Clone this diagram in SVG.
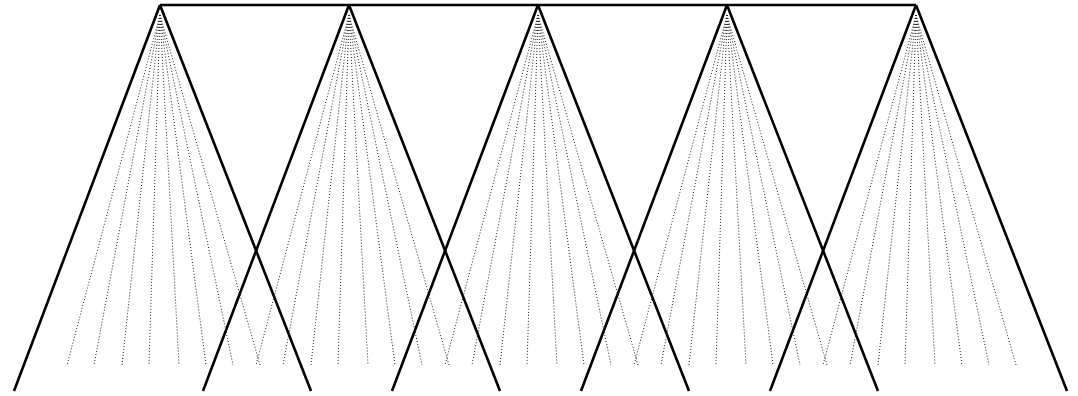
<svg xmlns="http://www.w3.org/2000/svg" width="1078" height="396" viewBox="0 0 1078 396">
<style>
.thick{stroke:#000;stroke-width:2.6;fill:none;stroke-linecap:butt}
.dot{stroke:#222;stroke-width:1;stroke-dasharray:1 2;fill:none}
</style>
<rect width="1078" height="396" fill="#fff"/>
<g id="connectors">
<line class="thick" x1="160" y1="5" x2="916" y2="5"/>
</g>
<g id="tree1" transform="translate(160,0)">
<line class="thick" x1="0" y1="5" x2="-146" y2="391"/>
<line class="thick" x1="0" y1="5" x2="151" y2="391"/>
<g class="dot"><line x1="0" y1="15" x2="-93" y2="365"/><line x1="0" y1="15" x2="-66" y2="365"/><line x1="0" y1="15" x2="-38" y2="365"/><line x1="0" y1="15" x2="-11" y2="365"/><line x1="0" y1="15" x2="19" y2="365"/><line x1="0" y1="15" x2="46" y2="365"/><line x1="0" y1="15" x2="73" y2="365"/><line x1="0" y1="15" x2="100" y2="365"/></g>
</g>
<g id="tree2" transform="translate(349,0)">
<line class="thick" x1="0" y1="5" x2="-146" y2="391"/>
<line class="thick" x1="0" y1="5" x2="151" y2="391"/>
<g class="dot"><line x1="0" y1="15" x2="-93" y2="365"/><line x1="0" y1="15" x2="-66" y2="365"/><line x1="0" y1="15" x2="-38" y2="365"/><line x1="0" y1="15" x2="-11" y2="365"/><line x1="0" y1="15" x2="19" y2="365"/><line x1="0" y1="15" x2="46" y2="365"/><line x1="0" y1="15" x2="73" y2="365"/><line x1="0" y1="15" x2="100" y2="365"/></g>
</g>
<g id="tree3" transform="translate(538,0)">
<line class="thick" x1="0" y1="5" x2="-146" y2="391"/>
<line class="thick" x1="0" y1="5" x2="151" y2="391"/>
<g class="dot"><line x1="0" y1="15" x2="-93" y2="365"/><line x1="0" y1="15" x2="-66" y2="365"/><line x1="0" y1="15" x2="-38" y2="365"/><line x1="0" y1="15" x2="-11" y2="365"/><line x1="0" y1="15" x2="19" y2="365"/><line x1="0" y1="15" x2="46" y2="365"/><line x1="0" y1="15" x2="73" y2="365"/><line x1="0" y1="15" x2="100" y2="365"/></g>
</g>
<g id="tree4" transform="translate(727,0)">
<line class="thick" x1="0" y1="5" x2="-146" y2="391"/>
<line class="thick" x1="0" y1="5" x2="151" y2="391"/>
<g class="dot"><line x1="0" y1="15" x2="-93" y2="365"/><line x1="0" y1="15" x2="-66" y2="365"/><line x1="0" y1="15" x2="-38" y2="365"/><line x1="0" y1="15" x2="-11" y2="365"/><line x1="0" y1="15" x2="19" y2="365"/><line x1="0" y1="15" x2="46" y2="365"/><line x1="0" y1="15" x2="73" y2="365"/><line x1="0" y1="15" x2="100" y2="365"/></g>
</g>
<g id="tree5" transform="translate(916,0)">
<line class="thick" x1="0" y1="5" x2="-146" y2="391"/>
<line class="thick" x1="0" y1="5" x2="151" y2="391"/>
<g class="dot"><line x1="0" y1="15" x2="-93" y2="365"/><line x1="0" y1="15" x2="-66" y2="365"/><line x1="0" y1="15" x2="-38" y2="365"/><line x1="0" y1="15" x2="-11" y2="365"/><line x1="0" y1="15" x2="19" y2="365"/><line x1="0" y1="15" x2="46" y2="365"/><line x1="0" y1="15" x2="73" y2="365"/><line x1="0" y1="15" x2="100" y2="365"/></g>
</g>
</svg>
